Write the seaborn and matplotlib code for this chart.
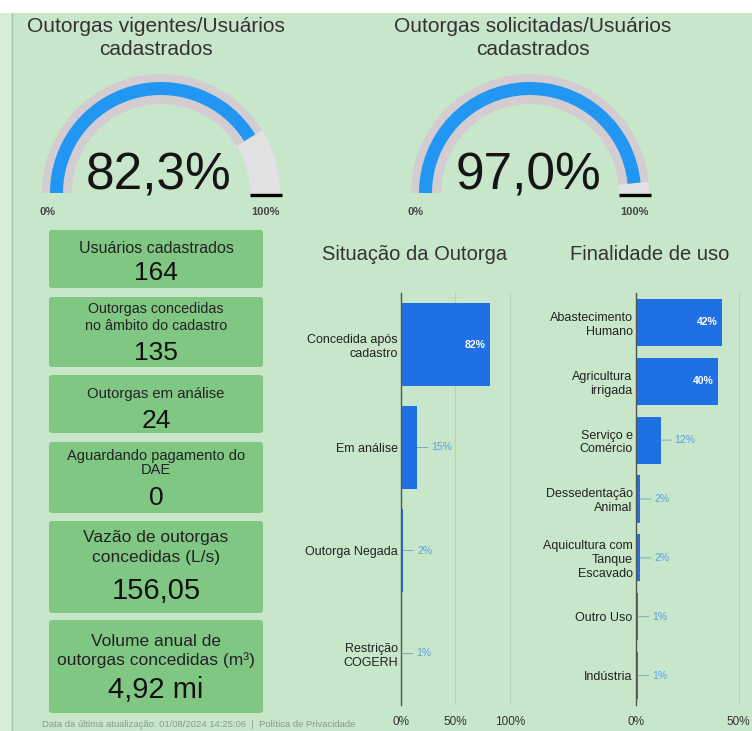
import matplotlib
matplotlib.use("Agg")
import matplotlib.pyplot as plt
import seaborn as sns
import pandas as pd
from matplotlib.patches import Wedge, FancyBboxPatch, Rectangle

# ---------------- data ----------------
gauge_titles = ["Outorgas vigentes/Usuários\ncadastrados",
                "Outorgas solicitadas/Usuários\ncadastrados"]
gauge_values = [82.3, 97.0]
gauge_min_label = "0%"
gauge_max_label = "100%"

card_labels = ["Usuários cadastrados",
               "Outorgas concedidas\nno âmbito do cadastro",
               "Outorgas em análise",
               "Aguardando pagamento do\nDAE",
               "Vazão de outorgas\nconcedidas (L/s)",
               "Volume anual de\noutorgas concedidas (m³)"]
card_values = ["164", "135", "24", "0", "156,05", "4,92 mi"]

situacao_title = "Situação da Outorga"
situacao_cats = ["Concedida após\ncadastro", "Em análise", "Outorga Negada",
                 "Restrição\nCOGERH"]
situacao_vals = [82, 15, 2, 1]
situacao_ticks = [0, 50, 100]

finalidade_title = "Finalidade de uso"
finalidade_cats = ["Abastecimento\nHumano", "Agricultura\nirrigada",
                   "Serviço e\nComércio", "Dessedentação\nAnimal",
                   "Aquicultura com\nTanque\nEscavado", "Outro Uso", "Indústria"]
finalidade_vals = [42, 40, 12, 2, 2, 1, 1]
finalidade_ticks = [0, 50]

footer_text = "Data da última atualização: 01/08/2024 14:25:06  |  Política de Privacidade"

# ---------------- style ----------------
W, H = 752, 731
BG = "#c8e6c9"
CARD = "#81c784"
GAUGE_BLUE = "#2196f3"
BAR_BLUE = "#1f6fe5"
LBL_BLUE = "#5b9fe0"
TXT = "#222222"

sns.set_theme(style="white")
plt.rcParams["font.family"] = ["Liberation Sans", "DejaVu Sans"]

fig = plt.figure(figsize=(W / 100, H / 100), dpi=100)
fig.patch.set_facecolor(BG)

ov = fig.add_axes([0, 0, 1, 1])
ov.set_xlim(0, W)
ov.set_ylim(0, H)
ov.axis("off")


def Y(y):
    return H - y


# frame strips
ov.add_patch(Rectangle((0, Y(13)), W, 13, fc="white", ec="none", zorder=1))
ov.add_patch(Rectangle((0, 0), 11, Y(13), fc="#d6edd6", ec="none", zorder=1))
ov.plot([11.5, 11.5], [0, Y(13)], color="#a8cfa9", lw=1, zorder=2)

# ---------------- gauges ----------------
gauge_centers = [(161, 193), (530, 193)]
title_cx = [156, 533]
for (cx, cy), tcx, title, v in zip(gauge_centers, title_cx, gauge_titles, gauge_values):
    r_out, band = 119, 30
    ang = 180 - 180 * v / 100.0
    ov.add_patch(Wedge((cx, Y(cy)), r_out, 0, ang, width=band, fc="#e4e1e4", ec="none", zorder=3))
    ov.add_patch(Wedge((cx, Y(cy)), r_out, ang, 180, width=band, fc="#d3ccd0", ec="none", zorder=3))
    ov.add_patch(Wedge((cx, Y(cy)), r_out - 8, ang, 180, width=13, fc=GAUGE_BLUE, ec="none", zorder=4))
    ov.plot([cx + r_out - 30, cx + r_out + 2], [Y(cy + 1.5)] * 2, color="black", lw=2.4,
            solid_capstyle="butt", zorder=5)
    for k, line in enumerate(title.split("\n")):
        ov.text(tcx, Y(32 + 23 * k), line, ha="center", va="baseline", fontsize=15,
                color="#333333", zorder=6)
    ov.text(cx - 2, Y(190), f"{v:.1f}".replace(".", ",") + "%", ha="center", va="baseline",
            fontsize=37, color="#151515", zorder=6)
    ov.text(cx - 114, Y(215), gauge_min_label, ha="center", va="baseline", fontsize=8,
            fontweight="bold", color="#444444", zorder=6)
    ov.text(cx + 104, Y(215), gauge_max_label, ha="center", va="baseline", fontsize=8,
            fontweight="bold", color="#444444", zorder=6)

# ---------------- cards ----------------
card_boxes = [(230, 288), (297, 367), (375, 433), (442, 513), (521, 613), (620, 713)]
label_baselines = [[253], [313, 330], [398], [460, 474], [542, 562], [646, 665]]
value_baselines = [280, 360, 428, 505, 599, 698]
label_sizes = [11.5, 10.3, 10.7, 10.5, 12.5, 12.5]
value_sizes = [19, 19, 19, 19, 21, 21]
cx_card = 156
for (t, b), lab, val, lbs, vb, ls, vs in zip(card_boxes, card_labels, card_values,
                                             label_baselines, value_baselines,
                                             label_sizes, value_sizes):
    ov.add_patch(FancyBboxPatch((49, Y(b)), 214, b - t, boxstyle="round,pad=0,rounding_size=3",
                                fc=CARD, ec="none", zorder=3))
    for line, yb in zip(lab.split("\n"), lbs):
        ov.text(cx_card, Y(yb), line, ha="center", va="baseline", fontsize=ls, color=TXT, zorder=6)
    ov.text(cx_card, Y(vb), val, ha="center", va="baseline", fontsize=vs, color="#111111", zorder=6)

ov.text(42, Y(727), footer_text, ha="left", va="baseline", fontsize=6.8, color="#8a9a8a", zorder=6)

# ---------------- bar charts ----------------
def px_axes(x0, y0, x1, y1):
    return fig.add_axes([x0 / W, 1 - y1 / H, (x1 - x0) / W, (y1 - y0) / H])


def bar_chart(ax, cats, vals, ticks, xmax, title, title_x):
    df = pd.DataFrame({"cat": cats, "val": vals})
    sns.barplot(data=df, x="val", y="cat", ax=ax, color=BAR_BLUE, saturation=1,
                width=0.8, orient="h", linewidth=0, edgecolor="none")
    ax.set_facecolor("none")
    ax.set_xlim(0, xmax)
    ax.set_ylim(len(cats) - 0.5, -0.5)
    ax.set_xticks(ticks)
    ax.set_xticklabels([f"{t}%" for t in ticks])
    ax.set_xlabel("")
    ax.set_ylabel("")
    ax.grid(axis="x", color="#b2d4b3", lw=0.8)
    ax.grid(axis="y", visible=False)
    ax.set_axisbelow(True)
    for s in ["top", "right", "bottom"]:
        ax.spines[s].set_visible(False)
    ax.spines["left"].set_color("#555555")
    ax.spines["left"].set_linewidth(1)
    ax.tick_params(axis="y", length=0, pad=2.5, labelsize=9, labelcolor=TXT)
    ax.tick_params(axis="x", length=0, pad=8, labelsize=8.5, labelcolor="#333333")
    for i, v in enumerate(vals):
        if v >= 30:
            ax.annotate(f"{v}%", xy=(v, i), xytext=(-3.5, 0), textcoords="offset points",
                        ha="right", va="center", fontsize=7.5, fontweight="bold", color="white")
        else:
            ax.annotate(f"{v}%", xy=(v, i), xytext=(10, 0), textcoords="offset points",
                        ha="left", va="center", fontsize=7.5, color=LBL_BLUE,
                        arrowprops=dict(arrowstyle="-", color="#7fa8c8", lw=0.7,
                                        shrinkA=0, shrinkB=0))
    ov.text(title_x, Y(260), title, ha="center", va="baseline", fontsize=14.5,
            color="#333333", zorder=6)


ax1 = px_axes(401, 293, 512, 705)
bar_chart(ax1, situacao_cats, situacao_vals, situacao_ticks, 102, situacao_title, 414.5)

ax2 = px_axes(636, 293, 752, 705)
bar_chart(ax2, finalidade_cats, finalidade_vals, finalidade_ticks, 56.5, finalidade_title, 650)

fig.savefig("out.png", dpi=100, facecolor=BG)
